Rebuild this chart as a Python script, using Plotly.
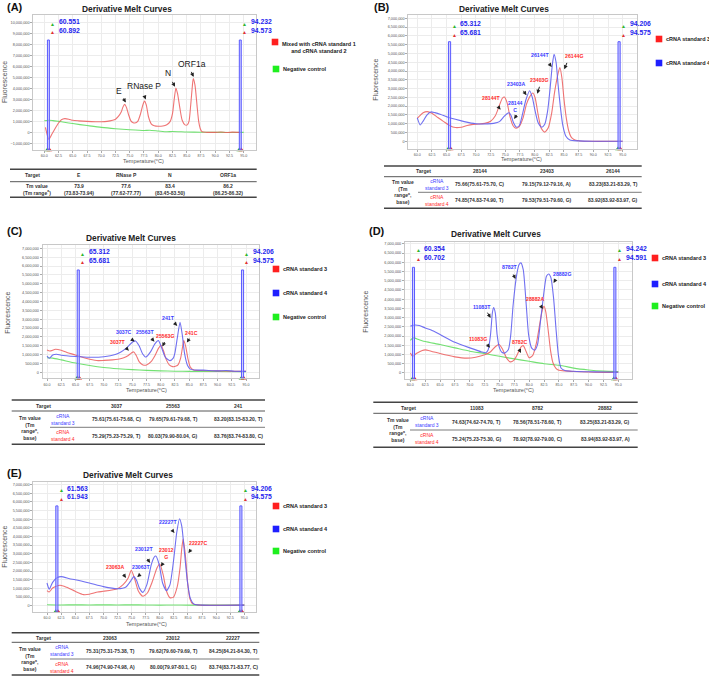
import plotly.graph_objects as go

W, H = 709, 676
FONT = "Liberation Sans, Arial, sans-serif"
M = 1e6  # curve values below are in millions

# ---------------- (A) multiplex melt curve ----------------
A_T_RED = [60.2, 60.5, 60.8, 61.2, 61.9, 62.5, 63.0, 63.6, 64.3, 65.0, 66.0, 67.5, 69.0, 70.0, 71.0,
           72.0, 72.5, 73.0, 73.5, 73.8, 74.1, 74.4, 74.8, 75.2, 75.6, 75.9, 76.4, 76.9, 77.3, 77.6,
           77.9, 78.3, 78.8, 79.3, 80.0, 80.8, 81.5, 82.1, 82.5, 82.8, 83.1, 83.4, 83.8, 84.2, 84.7,
           85.1, 85.4, 85.7, 86.0, 86.15, 86.45, 86.8, 87.1, 87.4, 87.7, 88.5, 90.0, 91.0, 92.0, 93.0, 94.3]
A_RED = [0.45, -0.2, -0.65, -0.3, 0.35, 0.85, 1.15, 1.25, 1.2, 1.1, 1.05, 1.0, 0.97, 0.97, 1.0,
         1.1, 1.2, 1.45, 1.85, 2.3, 2.55, 2.3, 1.6, 1.05, 0.88, 0.85, 1.0, 1.7, 2.5, 2.85,
         2.5, 1.4, 0.75, 0.6, 0.55, 0.58, 0.7, 1.0, 1.7, 3.0, 4.05, 3.5, 2.2, 1.1, 0.68,
         0.68, 1.0, 2.5, 4.3, 4.9, 4.3, 2.5, 1.0, 0.3, 0.05, 0.0, 0.0, 0.03, -0.02, 0.02, 0.0]
A_T_GRN = [60.0, 60.8, 61.5, 62.5, 63.5, 65.0, 67.5, 70.0, 72.5, 75.0, 77.5, 78.5, 80.0, 81.5, 82.5,
           85.0, 87.5, 90.0, 92.5, 95.0]
A_GRN = [1.05, 1.1, 1.07, 1.0, 0.92, 0.8, 0.62, 0.45, 0.33, 0.24, 0.17, 0.19, 0.12, 0.05, 0.08,
         0.03, 0.01, 0.0, -0.01, 0.0]
A_MARKS = [(60.551, 60.892), (94.232, 94.573)]
A_TBL_HEAD = ["Target", "E", "RNase P", "N", "ORF1a"]
A_TBL_TM = ["73.9<br>(73.83-73.94)", "77.6<br>(77.62-77.77)", "83.4<br>(83.45-83.50)", "86.2<br>(86.25-86.32)"]

# ---------------- (B) ----------------
B_T_RED = [60.0, 60.5, 61.0, 61.7, 62.5, 63.5, 64.5, 65.5, 66.5, 67.5, 68.5, 69.5, 70.5, 71.5, 72.5,
           73.3, 74.0, 74.5, 74.85, 75.3, 75.8, 76.3, 76.8, 77.4, 78.0, 78.6, 79.1, 79.7, 80.1, 80.6,
           81.1, 81.7, 82.3, 82.9, 83.4, 83.95, 84.3, 84.65, 85.0, 85.4, 85.8, 86.2, 86.7, 87.5, 89.0, 95.0]
B_RED = [1.3, 1.48, 1.63, 1.69, 1.6, 1.35, 1.12, 0.9, 0.78, 0.8, 0.9, 0.96, 0.98, 1.02, 1.14,
         1.45, 2.05, 2.45, 2.52, 2.2, 1.4, 0.9, 0.74, 0.85, 1.3, 2.1, 2.5, 2.75, 2.45, 1.5,
         0.75, 0.52, 0.75, 1.6, 2.8, 3.8, 4.2, 3.6, 2.4, 1.3, 0.6, 0.25, 0.1, 0.03, 0.0, 0.0]
B_T_BLU = [60.0, 60.5, 61.0, 61.6, 62.3, 63.0, 64.0, 65.0, 66.5, 68.0, 70.0, 72.0, 73.0, 74.0, 74.8,
           75.4, 75.66, 76.0, 76.4, 76.9, 77.4, 77.9, 78.5, 79.15, 79.6, 80.1, 80.6, 81.2, 81.7, 82.2,
           82.6, 83.0, 83.3, 83.65, 84.0, 84.4, 84.8, 85.3, 86.0, 87.5, 90.0, 95.0]
B_BLU = [1.33, 0.93, 1.15, 1.48, 1.67, 1.63, 1.53, 1.4, 1.25, 1.12, 1.0, 0.99, 1.02, 1.12, 1.42,
         1.6, 1.62, 1.45, 1.05, 0.8, 0.9, 1.5, 2.35, 2.88, 2.5, 1.7, 1.05, 0.8, 0.95, 1.7,
         2.9, 4.3, 4.95, 4.5, 3.2, 1.9, 0.9, 0.3, 0.07, 0.02, 0.0, 0.0]
B_MARKS = [(65.312, 65.681), (94.206, 94.575)]
B_TBL_HEAD = ["Target", "28144", "23403", "26144"]
B_TBL_STD3 = ["75.66(75.61-75.70, C)", "79.15(79.12-79.16, A)", "83.23(83.21-83.29, T)"]
B_TBL_STD4 = ["74.85(74.83-74.90, T)", "79.53(79.51-79.60, G)", "83.92(83.92-83.97, G)"]

# ---------------- (C) ----------------
C_T_RED = [60.0, 60.5, 61.5, 62.5, 63.5, 65.0, 66.5, 67.5, 69.0, 70.0, 71.5, 72.5, 73.5, 74.3, 74.8,
           75.25, 75.7, 76.2, 76.8, 77.5, 78.3, 79.0, 79.6, 80.05, 80.5, 81.0, 81.5, 82.1, 82.7, 83.1,
           83.5, 83.8, 84.05, 84.4, 84.8, 85.2, 85.8, 87.0, 90.0, 92.5, 95.0]
C_RED = [1.26, 1.2, 1.3, 1.24, 1.12, 0.98, 0.82, 0.74, 0.66, 0.67, 0.7, 0.74, 0.82, 0.95, 1.08,
         1.15, 0.95, 0.6, 0.43, 0.41, 0.6, 0.95, 1.35, 1.53, 1.2, 0.7, 0.42, 0.32, 0.35, 0.45,
         0.8, 1.35, 1.8, 1.45, 0.75, 0.3, 0.13, 0.1, 0.08, 0.06, 0.05]
C_T_BLU = [60.0, 60.4, 61.0, 61.7, 62.5, 65.0, 67.5, 70.0, 72.0, 73.0, 74.0, 75.0, 75.55, 76.2, 76.8,
           77.4, 78.2, 79.0, 79.6, 80.2, 80.8, 81.6, 82.2, 82.5, 82.9, 83.4, 83.8, 84.2, 84.7, 85.2,
           85.9, 87.5, 90.0, 91.5, 93.0, 95.0]
C_BLU = [0.92, 0.79, 0.98, 1.02, 0.96, 0.89, 0.85, 0.88, 1.0, 1.15, 1.38, 1.7, 1.77, 1.5, 1.05,
         0.86, 1.15, 1.62, 1.79, 1.35, 0.85, 0.66, 0.8, 1.1, 1.9, 2.83, 2.1, 1.05, 0.4, 0.18,
         0.13, 0.12, 0.08, 0.1, 0.06, 0.05]
C_T_GRN = [60.0, 61.0, 62.5, 65.0, 67.5, 70.0, 72.5, 75.0, 77.5, 80.0, 82.5, 85.0, 90.0, 95.0]
C_GRN = [0.82, 0.8, 0.7, 0.52, 0.38, 0.27, 0.2, 0.15, 0.11, 0.08, 0.06, 0.05, 0.04, 0.03]
C_MARKS = [(65.312, 65.681), (94.206, 94.575)]
C_TBL_HEAD = ["Target", "3037", "25563", "241"]
C_TBL_STD3 = ["75.61(75.61-75.68, C)", "79.65(79.61-79.68, T)", "83.20(83.15-83.20, T)"]
C_TBL_STD4 = ["75.29(75.23-75.29, T)", "80.03(79.90-80.04, G)", "83.76(83.74-83.80, C)"]

# ---------------- (D) ----------------
D_T_BLU = [60.0, 60.5, 61.5, 62.5, 63.5, 65.0, 67.5, 70.0, 72.0, 72.7, 73.1, 73.5, 73.8, 74.0, 74.3,
           74.6, 75.0, 75.4, 75.9, 76.5, 76.9, 77.3, 77.9, 78.3, 78.6, 79.0, 79.5, 79.9, 80.4, 80.9,
           81.4, 81.9, 82.5, 82.9, 83.28, 83.67, 84.1, 84.5, 84.9, 85.35, 86.0, 87.5, 90.0, 92.5, 95.0]
D_BLU = [2.53, 2.59, 2.57, 2.44, 2.33, 2.08, 1.66, 1.36, 1.14, 1.1, 1.26, 2.1, 3.25, 3.55, 3.25,
         2.08, 1.36, 1.12, 1.08, 1.27, 2.08, 3.7, 5.33, 5.88, 5.97, 5.6, 3.7, 2.08, 1.36, 1.23,
         1.54, 2.8, 4.43, 5.24, 5.37, 5.15, 4.07, 2.44, 1.0, 0.27, 0.13, 0.09, 0.06, 0.05, 0.04]
D_T_RED = [60.0, 60.4, 61.0, 62.0, 62.5, 63.5, 65.0, 67.5, 69.5, 71.0, 72.5, 73.5, 74.3, 74.9, 75.5,
           76.2, 76.8, 77.4, 78.0, 78.6, 79.0, 79.5, 80.0, 80.6, 81.2, 81.8, 82.2, 82.5, 82.8, 83.2,
           83.6, 84.0, 84.5, 85.0, 86.0, 87.5, 90.0, 92.5, 95.0]
D_RED = [1.08, 0.9, 1.05, 1.22, 1.25, 1.18, 1.05, 0.87, 0.8, 0.85, 0.98, 1.15, 1.42, 1.54, 1.3,
         0.8, 0.6, 0.68, 1.0, 1.4, 1.48, 1.15, 0.82, 0.95, 1.6, 2.7, 3.4, 3.62, 3.3, 2.3,
         1.2, 0.55, 0.25, 0.15, 0.11, 0.08, 0.05, 0.03, 0.04]
D_T_GRN = [60.0, 60.5, 61.5, 62.5, 65.0, 67.5, 70.0, 72.5, 75.0, 77.5, 80.0, 82.5, 85.0, 86.5, 87.5,
           90.0, 92.5, 95.0]
D_GRN = [1.77, 1.9, 1.8, 1.7, 1.54, 1.36, 1.18, 1.05, 0.9, 0.76, 0.63, 0.5, 0.42, 0.33, 0.26,
         0.16, 0.1, 0.08]
D_MARKS = [(60.354, 60.702), (94.242, 94.591)]
D_TBL_HEAD = ["Target", "11083", "8782", "28882"]
D_TBL_STD3 = ["74.63(74.62-74.70, T)", "78.56(78.51-78.60, T)", "83.25(83.21-83.29, G)"]
D_TBL_STD4 = ["75.24(75.23-75.30, G)", "78.92(78.92-79.00, C)", "83.94(83.92-83.97, A)"]

# ---------------- (E) ----------------
E_T_BLU = [60.0, 60.4, 61.0, 61.8, 62.5, 64.0, 65.0, 67.5, 70.0, 72.5, 74.0, 74.8, 75.4, 75.9, 76.4,
           77.0, 77.7, 78.5, 79.0, 79.3, 79.9, 80.5, 81.2, 81.8, 82.5, 83.0, 83.5, 83.9, 84.4, 84.9,
           85.4, 86.1, 87.5, 95.0]
E_BLU = [1.31, 0.95, 1.35, 1.62, 1.68, 1.56, 1.5, 1.31, 1.1, 0.98, 1.08, 1.4, 1.68, 1.45, 1.0,
         0.77, 1.2, 2.37, 2.8, 2.87, 2.37, 1.31, 0.87, 1.2, 2.75, 4.2, 5.03, 4.6, 3.0, 1.4,
         0.45, 0.08, 0.03, 0.03]
E_T_RED = [60.0, 60.4, 61.0, 62.3, 63.5, 65.0, 66.5, 67.5, 69.0, 70.0, 72.5, 73.5, 74.4, 74.95, 75.5,
           76.2, 77.0, 77.8, 78.7, 79.5, 80.0, 80.6, 81.2, 81.8, 82.4, 83.1, 83.6, 83.9, 84.15, 84.55,
           84.95, 85.35, 85.85, 87.0, 95.0]
E_RED = [0.87, 0.79, 1.02, 1.18, 1.06, 0.83, 0.64, 0.66, 0.79, 0.83, 0.98, 1.21, 1.6, 2.05, 1.6,
         0.85, 0.54, 0.73, 1.41, 2.18, 2.41, 1.79, 0.83, 0.46, 0.48, 1.1, 2.2, 3.3, 3.85, 2.9,
         1.3, 0.4, 0.1, 0.03, 0.03]
E_T_GRN = [60.0, 62.5, 65.0, 67.5, 70.0, 72.5, 75.0, 77.5, 80.0, 82.5, 85.0, 87.5, 90.0, 92.5, 95.0]
E_GRN = [0.05, 0.04, 0.05, 0.04, 0.05, 0.04, 0.05, 0.04, 0.03, 0.04, 0.03, 0.03, 0.03, 0.03, 0.03]
E_MARKS = [(61.563, 61.943), (94.206, 94.575)]
E_TBL_HEAD = ["Target", "23063", "23012", "22227"]
E_TBL_STD3 = ["75.31(75.31-75.38, T)", "79.62(79.60-79.69, T)", "84.25(84.21-84.30, T)"]
E_TBL_STD4 = ["74.96(74.90-74.98, A)", "80.00(79.97-80.1, G)", "83.74(83.71-83.77, C)"]

# colours
RED, BLUE, GREEN = "rgba(236,92,92,0.85)", "rgba(96,96,240,0.9)", "rgba(100,222,100,0.9)"
RED_SQ, BLUE_SQ, GREEN_SQ = "#ff1f1f", "#1f1fff", "#1fef1f"
RED_TX, BLUE_TX = "#ff2b2b", "#3b3bff"

K = "#1a1a1a"
PANELS = [
    dict(tag="(A)", box=(33.3, 15, 256, 150), xr=(58.07, 97.16), yr=(-1.61, 10.7), dtick=1.0,
         rect_top=8.42, marks=A_MARKS, lab_dy=(6.7, 15), title=(127, 9.3), tagpos=(15, 7),
         ytitle=(4.5, 82.5), xtitle=(143.3, 161),
         curves=[(A_T_GRN, A_GRN, GREEN), (A_T_RED, A_RED, RED)],
         legend=[(275, 42, "Mixed with cRNA standard 1<br>and cRNA standard 2", RED_SQ, 47.5),
                 (276, 69, "Negative control", GREEN_SQ, 69)],
         labels=[("E", K, 73.17, 3.74, 73.75, 3.22, 74.3, 2.72),
                 ("RNase P", K, 77.47, 4.19, 77.5, 3.43, 77.8, 3.0),
                 ("N", K, 81.8, 5.41, 82.35, 4.74, 82.95, 4.15),
                 ("ORF1a", K, 85.98, 6.26, 85.7, 5.65, 86.2, 5.05)]),
    dict(tag="(B)", box=(408.3, 15, 636.7, 149), xr=(58.47, 97.39), yr=(-0.44, 7.19), dtick=0.5,
         rect_top=5.67, marks=B_MARKS, lab_dy=(9, 17.7), title=(504, 9.3), tagpos=(382, 7),
         ytitle=(375.7, 80), xtitle=(521.7, 158.5),
         curves=[(B_T_RED, B_RED, RED), (B_T_BLU, B_BLU, BLUE)],
         legend=[(659, 39, "cRNA standard 3", RED_SQ, 39), (659, 63, "cRNA standard 4", BLUE_SQ, 63)],
         labels=[("28144T", RED_TX, 72.6, 2.49, 73.7, 2.0, 74.2, 1.8),
                 ("28144<br>C", BLUE_TX, 76.75, 1.97, 77.1, 1.57, 76.5, 1.27),
                 ("23403A", BLUE_TX, 76.8, 3.24, 77.9, 2.96, 78.6, 2.62),
                 ("23403G", RED_TX, 80.8, 3.47, 80.9, 3.19, 80.45, 2.71),
                 ("26144T", BLUE_TX, 80.85, 4.9, 82.3, 4.5, 82.9, 4.23),
                 ("26144G", RED_TX, 86.65, 4.84, 85.6, 4.55, 85.06, 4.1)]),
    dict(tag="(C)", box=(42.7, 245, 259.3, 378.3), xr=(59.24, 97.34), yr=(-0.34, 7.19), dtick=0.5,
         rect_top=5.78, marks=C_MARKS, lab_dy=(6.7, 15), title=(131, 238), tagpos=(15, 230.7),
         ytitle=(6.7, 313), xtitle=(146.7, 389.5),
         curves=[(C_T_GRN, C_GRN, GREEN), (C_T_RED, C_RED, RED), (C_T_BLU, C_BLU, BLUE)],
         legend=[(276, 269, "cRNA standard 3", RED_SQ, 269), (276, 293, "cRNA standard 4", BLUE_SQ, 293),
                 (276, 317, "Negative control", GREEN_SQ, 317)],
         labels=[("3037C", BLUE_TX, 73.55, 2.26, 74.65, 1.92, 75.4, 1.74),
                 ("3037T", RED_TX, 72.5, 1.71, 73.8, 1.41, 74.4, 1.22),
                 ("25563T", BLUE_TX, 77.3, 2.26, 78.2, 1.98, 78.9, 1.73),
                 ("25563G", RED_TX, 80.8, 2.05, 80.8, 1.79, 80.3, 1.45),
                 ("241T", BLUE_TX, 81.4, 3.09, 82.2, 2.86, 82.9, 2.62),
                 ("241C", RED_TX, 85.5, 2.2, 85.2, 1.98, 84.6, 1.68)]),
    dict(tag="(D)", box=(405, 241.7, 631.7, 379), xr=(59.1, 97.25), yr=(-0.33, 7.12), dtick=0.5,
         rect_top=5.73, marks=D_MARKS, lab_dy=(6.6, 15.6), title=(496, 234), tagpos=(377, 231),
         ytitle=(366, 311.7), xtitle=(513.3, 389.5),
         curves=[(D_T_GRN, D_GRN, GREEN), (D_T_RED, D_RED, RED), (D_T_BLU, D_BLU, BLUE)],
         legend=[(655, 258, "cRNA standard 3", RED_SQ, 258), (655, 284, "cRNA standard 4", BLUE_SQ, 284),
                 (655, 306, "Negative control", GREEN_SQ, 306)],
         labels=[("11083T", BLUE_TX, 72.0, 3.58, 72.84, 3.35, 73.5, 2.98),
                 ("11083G", RED_TX, 71.3, 1.84, 72.7, 1.63, 73.4, 1.36),
                 ("8782T", BLUE_TX, 76.8, 5.73, 77.2, 5.42, 77.7, 5.1),
                 ("8782C", RED_TX, 78.5, 1.68, 78.2, 1.36, 78.6, 1.08),
                 ("28882A", RED_TX, 81.0, 4.01, 81.8, 3.71, 82.3, 3.47),
                 ("28882G", BLUE_TX, 85.6, 5.37, 84.6, 5.15, 84.1, 4.88)]),
    dict(tag="(E)", box=(33.3, 481.7, 256, 611.7), xr=(57.57, 97.07), yr=(-0.35, 7.17), dtick=0.5,
         rect_top=5.77, marks=E_MARKS, lab_dy=(6.6, 15), title=(128, 475), tagpos=(15, 472.7),
         ytitle=(5, 546.7), xtitle=(146.7, 623.5),
         curves=[(E_T_GRN, E_GRN, GREEN), (E_T_RED, E_RED, RED), (E_T_BLU, E_BLU, BLUE)],
         legend=[(276, 506, "cRNA standard 3", RED_SQ, 506), (276, 529, "cRNA standard 4", BLUE_SQ, 529),
                 (276, 551, "Negative control", GREEN_SQ, 551)],
         labels=[("23063A", RED_TX, 72.0, 2.22, 73.4, 1.89, 74.0, 1.6),
                 ("23063T", BLUE_TX, 76.6, 2.22, 76.7, 1.85, 76.0, 1.66),
                 ("23012T", BLUE_TX, 77.2, 3.3, 77.6, 2.79, 78.3, 2.47),
                 ("23012<br>G", RED_TX, 81.2, 3.0, 80.7, 2.52, 80.2, 2.27),
                 ("22227T", BLUE_TX, 81.4, 4.82, 82.0, 4.45, 82.6, 4.2),
                 ("22227C", RED_TX, 86.7, 3.62, 85.7, 3.33, 85.1, 3.04)]),
]


def px(x):
    return x / W


def py(y):
    return 1 - y / H


fig = go.Figure()
ann, shapes = [], []


def text(x, y, s, size, color=K, bold=False, xanchor="center", yanchor="middle",
         xref="paper", yref="paper", angle=0):
    ann.append(dict(x=x, y=y, xref=xref, yref=yref, text=f"<b>{s}</b>" if bold else s,
                    showarrow=False, xanchor=xanchor, yanchor=yanchor, textangle=angle,
                    font=dict(size=size, color=color, family=FONT)))


def hline(x0, x1, y, width):
    shapes.append(dict(type="line", xref="paper", yref="paper", x0=px(x0), x1=px(x1),
                       y0=py(y), y1=py(y), line=dict(color="#444", width=width)))


for i, p in enumerate(PANELS, 1):
    sfx = "" if i == 1 else str(i)
    xref, yref = "x" + sfx, "y" + sfx
    x0, y0, x1, y1 = p["box"]
    fig.update_layout(**{
        "xaxis" + sfx: dict(domain=[px(x0), px(x1)], range=list(p["xr"]), anchor=yref,
                            tick0=60, dtick=2.5, tickformat=".1f", ticks="outside", ticklen=2,
                            tickcolor="#aaa", tickfont=dict(size=3.6, color="#555", family=FONT),
                            showgrid=True, gridcolor="#ececec", gridwidth=1, zeroline=False,
                            showline=True, linecolor="#c8c8c8", mirror=True),
        "yaxis" + sfx: dict(domain=[py(y1), py(y0)], range=[p["yr"][0] * M, p["yr"][1] * M],
                            anchor=xref, tick0=0, dtick=p["dtick"] * M, tickformat=",d",
                            ticks="outside", ticklen=2, tickcolor="#aaa",
                            tickfont=dict(size=3.8, color="#555", family=FONT),
                            showgrid=True, gridcolor="#ececec", gridwidth=1, zeroline=False,
                            showline=True, linecolor="#c8c8c8", mirror=True),
    })

    for t, v, c in p["curves"]:
        assert len(t) == len(v)
        fig.add_trace(go.Scatter(x=t, y=[a * M for a in v], xaxis=xref, yaxis=yref, mode="lines",
                                 line=dict(color=c, width=1.1, shape="spline", smoothing=0.6),
                                 hoverinfo="skip", showlegend=False))

    # melt-region cursors
    for m0, m1 in p["marks"]:
        shapes.append(dict(type="rect", xref=xref, yref=yref, x0=m0, x1=m1,
                           y0=p["yr"][0] * M, y1=p["rect_top"] * M,
                           fillcolor="rgba(170,170,255,0.55)", line=dict(color="#5a5aff", width=1)))
        fig.add_trace(go.Scatter(x=[m0, m1], y=[p["yr"][0] * M] * 2, xaxis=xref, yaxis=yref,
                                 mode="markers", cliponaxis=False, hoverinfo="skip", showlegend=False,
                                 marker=dict(symbol="triangle-up", size=5,
                                             color=["#2db52d", "#e23030"])))
        for k, (val, col) in enumerate(((m0, "#2db52d"), (m1, "#e23030"))):
            yy = y0 + p["lab_dy"][k]
            text(m1 + 0.6, py(yy + 2), "▲", 5, col, xref=xref)
            text(m1 + 1.3, py(yy), f"{val:.3f}", 6.8, "#2424ee", bold=True, xanchor="left", xref=xref)

    for s, col, tx, ty, ax_, ay_, hx, hy in p["labels"]:
        big = i == 1
        text(tx, ty * M, s, 8.5 if big else 5.2, col, bold=not big, xref=xref, yref=yref)
        ann.append(dict(x=hx, y=hy * M, ax=ax_, ay=ay_ * M, xref=xref, yref=yref,
                        axref=xref, ayref=yref, text="", showarrow=True, arrowhead=2,
                        arrowsize=0.8, arrowwidth=1, arrowcolor="#222"))

    for sx, sy, s, col, ty in p["legend"]:
        shapes.append(dict(type="rect", xref="paper", yref="paper", x0=px(sx - 3.3), x1=px(sx + 3.3),
                           y0=py(sy + 3.3), y1=py(sy - 3.3), fillcolor=col, line=dict(width=0)))
        text(px(sx + 5.2), py(ty), s, 5.5, "#222", bold=True, xanchor="left")

    text(px(p["title"][0]), py(p["title"][1]), "Derivative Melt Curves", 8.4, "#222", bold=True)
    text(px(p["tagpos"][0]), py(p["tagpos"][1]), p["tag"], 11, "#111", bold=True)
    text(px(p["ytitle"][0]), py(p["ytitle"][1]), "Fluorescence", 7, "#555", angle=-90)
    text(px(p["xtitle"][0]), py(p["xtitle"][1]), "Temperature(°C)", 5.5, "#555")

# ---------------- tables ----------------
TS = 5.0
TC = "#333"

# (A)
hline(10, 256.7, 169.3, 1.4)
hline(10, 256.7, 181.7, 0.9)
hline(10, 256.7, 197.3, 1.4)
for s, x in zip(A_TBL_HEAD, [32, 79, 126, 170, 228]):
    text(px(x), py(175.5), s, TS, TC, bold=True)
text(px(37), py(189.5), "Tm value<br>(Tm range<sup>a</sup>)", TS, TC, bold=True)
for s, x in zip(A_TBL_TM, [79, 126, 170, 228]):
    text(px(x), py(189.5), s, TS, TC, bold=True)

TABLES = [
    dict(x=(384, 641.7), top=166, hl=176.7, ml=192.3, mx=418, bot=208.3,
         cols=[423.3, 480, 546.7, 613.3], tmx=403.3, lx=436.7,
         rows=(B_TBL_HEAD, B_TBL_STD3, B_TBL_STD4)),
    dict(x=(11.7, 265), top=400, hl=411, ml=427.3, mx=50, bot=444.3,
         cols=[43.3, 116.7, 173.3, 238.3], tmx=30, lx=63.3,
         rows=(C_TBL_HEAD, C_TBL_STD3, C_TBL_STD4)),
    dict(x=(373.3, 637.7), top=402.3, hl=413.3, ml=430, mx=410, bot=447.3,
         cols=[408.3, 476.7, 537.7, 605], tmx=397.7, lx=426.7,
         rows=(D_TBL_HEAD, D_TBL_STD3, D_TBL_STD4)),
    dict(x=(11.7, 259.3), top=632.7, hl=642.3, ml=659, mx=50, bot=675,
         cols=[43.3, 110, 173.3, 233.3], tmx=30, lx=61.7,
         rows=(E_TBL_HEAD, E_TBL_STD3, E_TBL_STD4)),
]
for t in TABLES:
    L, R = t["x"]
    hline(L, R, t["top"], 1.4)
    hline(L, R, t["hl"], 0.9)
    hline(t["mx"], R, t["ml"], 0.7)
    hline(L, R, t["bot"], 1.4)
    head, r1, r2 = t["rows"]
    hy = (t["top"] + t["hl"]) / 2
    y1r = (t["hl"] + t["ml"]) / 2
    y2r = (t["ml"] + t["bot"]) / 2
    for s, x in zip(head, t["cols"]):
        text(px(x), py(hy), s, TS, TC, bold=True)
    text(px(t["tmx"]), py((t["hl"] + t["bot"]) / 2), "Tm value<br>(Tm<br>range<sup>a</sup>,<br>base)",
         TS, TC, bold=True)
    text(px(t["lx"]), py(y1r), "cRNA<br>standard 3", TS, BLUE_TX)
    text(px(t["lx"]), py(y2r), "cRNA<br>standard 4", TS, RED_TX)
    for s, x in zip(r1, t["cols"][1:]):
        text(px(x), py(y1r), s, TS, TC, bold=True)
    for s, x in zip(r2, t["cols"][1:]):
        text(px(x), py(y2r), s, TS, TC, bold=True)

fig.update_layout(width=W, height=H, margin=dict(l=0, r=0, t=0, b=0),
                  paper_bgcolor="white", plot_bgcolor="white", showlegend=False,
                  annotations=ann, shapes=shapes, font=dict(family=FONT))
# the page body has a default 8px margin; drop it so the figure fills the window
fig.write_html("out.html", config={"displayModeBar": False},
               post_script="document.body.style.margin='0px';")
